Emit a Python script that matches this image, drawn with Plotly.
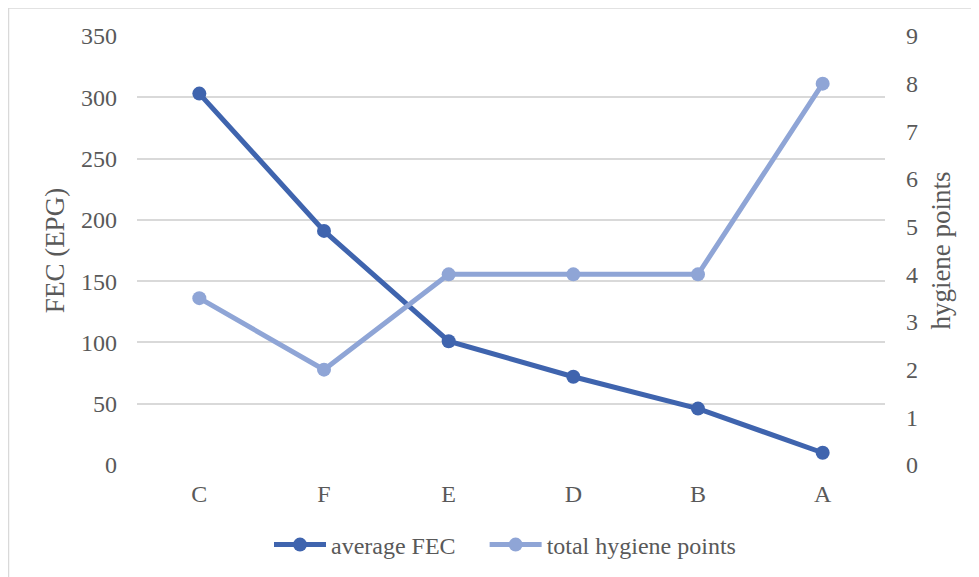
import plotly.graph_objects as go

categories = ["C", "F", "E", "D", "B", "A"]
avg_fec = [303, 191, 101, 72, 46, 10]
hygiene_points = [3.5, 2, 4, 4, 4, 8]
left_ticks = [0, 50, 100, 150, 200, 250, 300, 350]
right_ticks = [0, 1, 2, 3, 4, 5, 6, 7, 8, 9]

# page body has an 8px margin, so the figure starts at (8, 8) on screen
OFF = 8
W, H = 979 - OFF, 577 - OFF
ML, MR, MT, MB = 137 - OFF, 94, 36 - OFF, 112
pw, ph = W - ML - MR, H - MT - MB

dark = "#3F64AE"
light = "#8FA5D6"
txt = "#595959"
font = "Liberation Serif, Times New Roman, serif"

fig = go.Figure()
fig.add_trace(go.Scatter(x=categories, y=avg_fec, name="average FEC\u2003", mode="lines+markers",
                         line=dict(color=dark, width=5), marker=dict(color=dark, size=14),
                         yaxis="y"))
fig.add_trace(go.Scatter(x=categories, y=hygiene_points, name="total hygiene points", mode="lines+markers",
                         line=dict(color=light, width=5), marker=dict(color=light, size=14),
                         yaxis="y2"))

def px_x(p):
    return (p - ML) / pw

def px_y(p):
    return (H - MB - p) / ph

fig.update_layout(
    width=W, height=H,
    margin=dict(l=ML, r=MR, t=MT, b=MB, autoexpand=False),
    paper_bgcolor="white", plot_bgcolor="white",
    font=dict(family=font, color=txt, size=24),
    xaxis=dict(type="category", range=[-0.5, 5.5], showgrid=False, showline=False, zeroline=False,
               ticks="", ticklabelstandoff=12, tickfont=dict(size=24, color=txt)),
    yaxis=dict(range=[0, 350], tickvals=left_ticks, showgrid=True, gridcolor="#D9D9D9",
               gridwidth=1.5, zeroline=False, showline=False, ticks="", ticklabelstandoff=19,
               title=dict(text="FEC (EPG)", font=dict(size=27, color=txt), standoff=8),
               tickfont=dict(size=24, color=txt)),
    yaxis2=dict(range=[0, 9], tickvals=right_ticks, overlaying="y", side="right",
                showgrid=False, zeroline=False, showline=False, ticks="", ticklabelstandoff=20,
                title=dict(text="hygiene points", font=dict(size=27, color=txt), standoff=14),
                tickfont=dict(size=24, color=txt)),
    legend=dict(orientation="h", x=px_x(505 - OFF), xanchor="center", y=px_y(545 - OFF), yanchor="middle",
                font=dict(size=24, color=txt), bgcolor="rgba(0,0,0,0)", itemwidth=52),
    showlegend=True,
    shapes=[
        dict(type="line", xref="paper", yref="paper", x0=px_x(0.5), x1=px_x(0.5),
             y0=px_y(-1), y1=px_y(H + 5), line=dict(color="#D9D9D9", width=1.5)),
        dict(type="line", xref="paper", yref="paper", x0=px_x(0), x1=px_x(W + 5),
             y0=px_y(0), y1=px_y(0), line=dict(color="#D9D9D9", width=1.5)),
    ],
)

fig.write_html("out.html")
